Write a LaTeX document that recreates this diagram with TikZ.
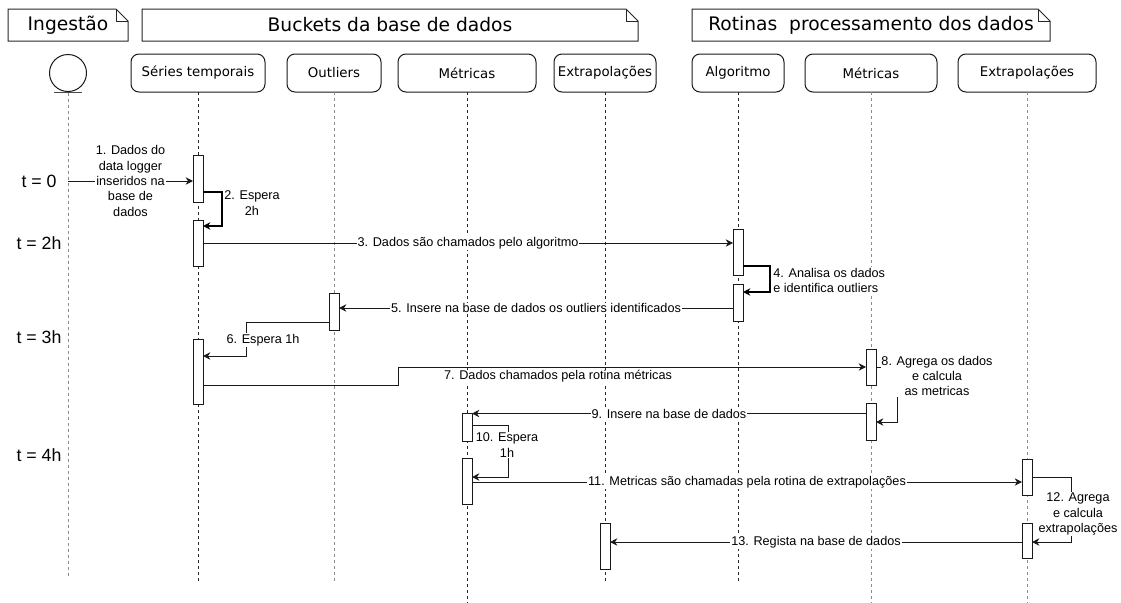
\documentclass[tikz,border=0pt]{standalone}
\usepackage{fontspec}
\setmainfont{Liberation Sans}
\newfontfamily\boxfont{DejaVu Sans}
\usetikzlibrary{arrows.meta,calc}
\begin{document}
\begin{tikzpicture}[x=0.75pt,y=-0.75pt,
  every node/.style={inner sep=0pt,outer sep=0pt},
  note/.style={minimum height=24pt,font=\boxfont\fontsize{14}{16}\selectfont},
  noteline/.style={draw=black!85,line width=0.75pt},
  part/.style={draw=black!90,line width=0.75pt,rounded corners=6pt,fill=white,
    minimum height=28.5pt,font=\boxfont\fontsize{10}{12}\selectfont},
  lifedark/.style={draw=black!85,line width=0.75pt,dash pattern=on 2.25pt off 2.25pt},
  lifelight/.style={draw=black!45,line width=0.75pt,dash pattern=on 2.25pt off 2.25pt},
  act/.style={draw=black!90,line width=0.75pt,fill=white,minimum width=7.5pt},
  msg/.style={draw=black!90,line width=0.75pt,
    -{Stealth[length=5.5pt,width=5.5pt,inset=1.8pt]}},
  boldmsg/.style={msg,draw=black,line width=1.5pt},
  lbl/.style={fill=white,font=\fontsize{9.5}{11.6}\selectfont,align=center,inner sep=0.6pt},
  tlbl/.style={font=\fontsize{13.3}{15}\selectfont}
]
\useasboundingbox (0,0) rectangle (1121,603);

% group headers drawn as folded notes
\node[note,minimum width=90pt] (fIng) at (68,25) {Ingestão};
\node[note,minimum width=372pt] (fBuck) at (390,25) {Buckets da base de dados};
\node[note,minimum width=268.5pt] (fRot) at (871,25) {Rotinas\ \ processamento dos dados};
\foreach \f in {fIng,fBuck,fRot}{
  \draw[noteline] (\f.south west) -- (\f.north west) -- ($(\f.north east)+(-12,0)$)
    -- ($(\f.north east)+(0,12)$) -- (\f.south east) -- cycle;
  \draw[noteline] ($(\f.north east)+(-12,0)$) -- ++(0,12) -- ++(12,0);
}

% participants
\node[circle,draw=black!90,line width=0.75pt,minimum size=27.75pt] (ing) at (68,73) {};
\draw[draw=black!70,line width=0.75pt] ($(ing.south)+(-14,0.5)$) -- ($(ing.south)+(14,0.5)$);
\node[part,minimum width=100.5pt] (ser)  at (198,73) {Séries temporais};
\node[part,minimum width=70.5pt]  (out)  at (334,73) {Outliers};
\node[part,minimum width=103.5pt] (met)  at (467,73) {Métricas};
\node[part,minimum width=76.5pt]  (ext)  at (605,73) {Extrapolações};
\node[part,minimum width=69pt]    (alg)  at (738,73) {Algoritmo};
\node[part,minimum width=99pt]    (met2) at (871,73) {Métricas};
\node[part,minimum width=103.5pt] (ext2) at (1027,73) {Extrapolações};

% lifelines
\coordinate (ingEnd)  at (68,578);
\coordinate (serEnd)  at (198,583);
\coordinate (outEnd)  at (334,583);
\coordinate (metEnd)  at (467,603);
\coordinate (extEnd)  at (605,583);
\coordinate (algEnd)  at (738,583);
\coordinate (met2End) at (871,603);
\coordinate (ext2End) at (1027,603);
\draw[lifelight] ($(ing.south)+(0,1)$) -- (ingEnd);
\draw[lifedark]  (ser.south)  -- (serEnd);
\draw[lifelight] (out.south)  -- (outEnd);
\draw[lifedark]  (met.south)  -- (metEnd);
\draw[lifedark]  (ext.south)  -- (extEnd);
\draw[lifedark]  (alg.south)  -- (algEnd);
\draw[lifelight] (met2.south) -- (met2End);
\draw[lifelight] (ext2.south) -- (ext2End);

% time marks
\node[tlbl] (t0) at (39,181) {t = 0};
\node[tlbl] (t2) at (39,243) {t = 2h};
\node[tlbl] (t3) at (39,337) {t = 3h};
\node[tlbl] (t4) at (39,455) {t = 4h};

% activation bars
\node[act,minimum height=35.25pt] (s1)  at (198,178.5) {};
\node[act,minimum height=34.5pt]  (s2)  at (198,243) {};
\node[act,minimum height=48.75pt] (s3)  at (198,371.5) {};
\node[act,minimum height=34.5pt]  (a1)  at (738,252) {};
\node[act,minimum height=27.75pt] (a2)  at (738,302.5) {};
\node[act,minimum height=27.75pt] (o1)  at (334,311.5) {};
\node[act,minimum height=27pt]    (m2a) at (871,367) {};
\node[act,minimum height=27.75pt] (m2b) at (871,421.5) {};
\node[act,minimum height=21pt]    (m1)  at (467,427) {};
\node[act,minimum height=34.5pt]  (m1b) at (467,481) {};
\node[act,minimum height=27pt]    (e2a) at (1027,477) {};
\node[act,minimum height=26.25pt] (e2b) at (1027,540.5) {};
\node[act,minimum height=34.5pt]  (e1)  at (605,546) {};

% 1
\coordinate (p1) at (68,181);
\draw[msg] (p1) -- node[lbl] (l1) {1. Dados do\\data logger\\inseridos na\\base de\\dados} (s1.west |- p1);
% 2
\coordinate (p2a) at (222,192);
\coordinate (p2b) at (222,226);
\draw[boldmsg] (s1.east |- p2a) -- (p2a) -- (p2b) -- (s2.east |- p2b);
\node[lbl,anchor=west] (l2) at (223.5,203) {2. Espera\\2h};
% 3
\coordinate (p3) at (0,243);
\draw[msg] (s2.east |- p3) -- node[lbl] (l3) {3. Dados são chamados pelo algoritmo} (a1.west |- p3);
% 4
\coordinate (p4a) at (770,266);
\coordinate (p4b) at (770,292);
\draw[boldmsg] (a1.east |- p4a) -- (p4a) -- (p4b) -- (a2.east |- p4b);
\node[lbl,anchor=west,align=left] (l4) at (772.5,280.5) {4. Analisa os dados\\e identifica outliers};
% 5
\coordinate (p5) at (0,308);
\draw[msg] (a2.west |- p5) -- node[lbl] (l5) {5. Insere na base de dados os outliers identificados} (o1.east |- p5);
% 6
\coordinate (p6a) at (246,322);
\coordinate (p6b) at (246,356);
\draw[msg] (o1.west |- p6a) -- (p6a) -- (p6b) -- (s3.east |- p6b);
\node[lbl] (l6) at (263,340) {6. Espera 1h};
% 7
\coordinate (p7a) at (398,385);
\coordinate (p7b) at (398,367);
\draw[msg] (s3.east |- p7a) -- (p7a) -- (p7b) -- (m2a.west |- p7b);
\node[lbl] (l7) at (558,376.5) {7. Dados chamados pela rotina métricas};
% 8
\coordinate (p8a) at (897,367);
\coordinate (p8b) at (897,422);
\draw[msg] (m2a.east |- p8a) -- (p8a) -- (p8b) -- (m2b.east |- p8b);
\node[lbl] (l8) at (937,376) {8. Agrega os dados\\e calcula\\as metricas};
% 9
\coordinate (p9) at (0,413.5);
\draw[msg] (m2b.west |- p9) -- node[lbl] (l9) {9. Insere na base de dados} (m1.east |- p9);
% 10
\coordinate (p10a) at (508,425);
\coordinate (p10b) at (508,477);
\draw[msg] (m1.east |- p10a) -- (p10a) -- (p10b) -- (m1b.east |- p10b);
\node[lbl] (l10) at (507,445) {10. Espera\\1h};
% 11
\coordinate (p11) at (0,482);
\draw[msg] (m1b.east |- p11) -- node[lbl] (l11) {11. Metricas são chamadas pela rotina de extrapolações} (e2a.west |- p11);
% 12
\coordinate (p12a) at (1071,477);
\coordinate (p12b) at (1071,542);
\draw[msg] (e2a.east |- p12a) -- (p12a) -- (p12b) -- (e2b.east |- p12b);
\node[lbl] (l12) at (1078,514) {12. Agrega\\e calcula\\extrapolações};
% 13
\coordinate (p13) at (0,542);
\draw[msg] (e2b.west |- p13) -- node[lbl] (l13) {13. Regista na base de dados} (e1.east |- p13);
\end{tikzpicture}
\end{document}
